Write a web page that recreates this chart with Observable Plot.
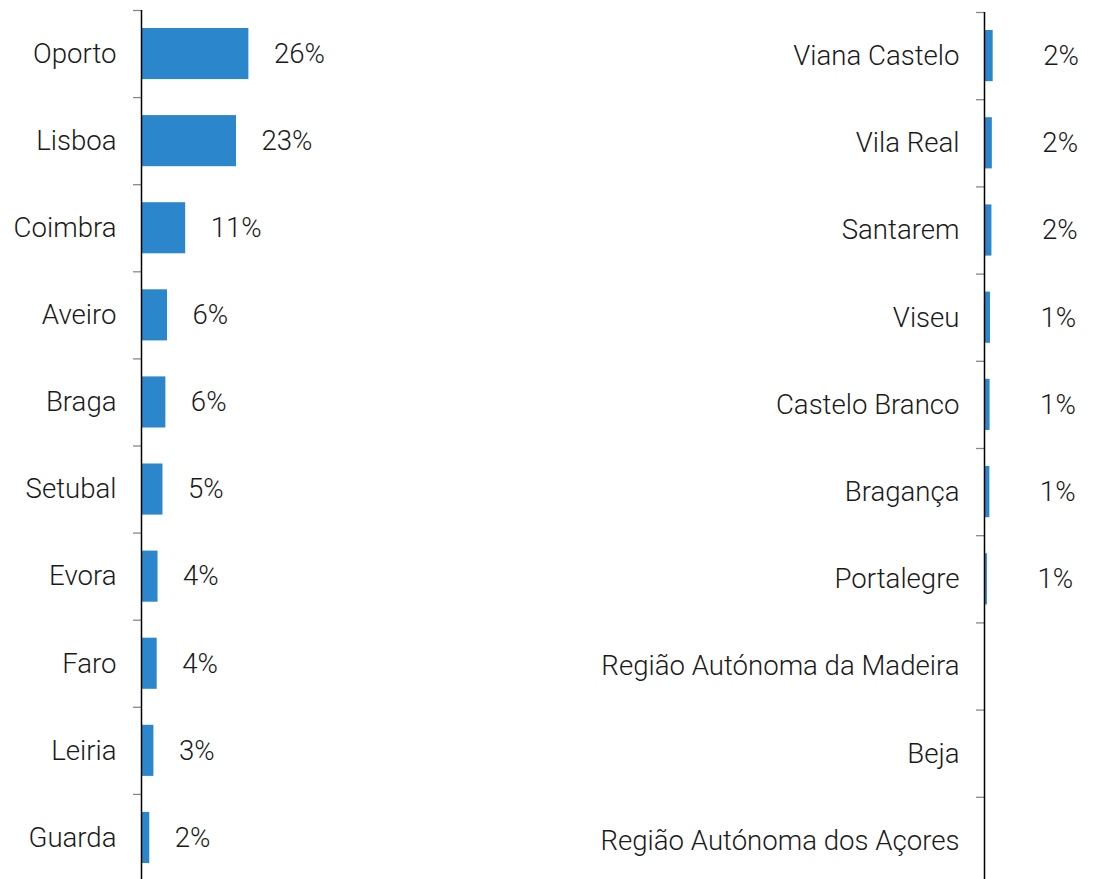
<!DOCTYPE html>
<html><head><meta charset="utf-8">
<script src="https://cdn.jsdelivr.net/npm/d3@7"></script>
<script src="https://cdn.jsdelivr.net/npm/@observablehq/plot@0.6"></script>
<style>
body{margin:0;background:#fff;}
#wrap{position:relative;width:1100px;height:879px;overflow:hidden;}
#left,#right{position:absolute;top:0;}
#left{left:0px}
#right{left:560px}
</style></head><body><div id="wrap"><div id="left"></div><div id="right"></div></div>
<script>
const leftNames = ["Oporto","Lisboa","Coimbra","Aveiro","Braga","Setubal","Evora","Faro","Leiria","Guarda"];
const leftValues = [26.0, 23.0, 10.7, 6.3, 5.9, 5.2, 4.0, 3.8, 3.0, 2.0];
const rightNames = ["Viana Castelo","Vila Real","Santarem","Viseu","Castelo Branco","Bragança","Portalegre","Região Autónoma da Madeira","Beja","Região Autónoma dos Açores"];
const rightValues = [2.1, 1.9, 1.8, 1.45, 1.35, 1.3, 0.7, 0, 0, 0];

const BAR = "#2b86cb";
const FONT = "Roboto, 'Liberation Sans', sans-serif";
const FS = 27.6;

function panel(names, values, o) {
  const data = names.map((name, i) => ({name, value: values[i], i}));
  const n = names.length;
  return Plot.plot({
    width: o.width,
    height: o.bottom,
    marginLeft: o.marginLeft,
    marginRight: 0,
    marginTop: o.top,
    marginBottom: 0,
    style: {fontFamily: FONT, fontSize: FS + "px", fontWeight: 300, color: "#1a1a1a", background: "transparent", overflow: "visible"},
    x: {domain: [0, o.xmax], axis: null},
    y: {domain: [0, n], range: [o.top, o.bottom], axis: null},
    marks: [
      Plot.rect(data, {x1: 0, x2: "value", y1: "i", y2: d => d.i + 1, insetTop: 18, insetBottom: 18, fill: BAR}),
      Plot.axisY({ticks: d3.range(0, n + 1), tickSize: 8, tickFormat: () => "", label: null, stroke: "#888", strokeWidth: 1.3}),
      Plot.ruleX([0], {stroke: "#000", strokeWidth: 1.5}),
      Plot.text(data, {x: 0, y: d => d.i + 0.5, text: "name", textAnchor: "end", dx: -25, fontSize: FS, fontWeight: 300, fill: "#1a1a1a"}),
      Plot.text(data.filter(d => d.value > 0), {x: "value", y: d => d.i + 0.5, text: d => Math.round(d.value) + "%", textAnchor: "start", dx: o.dx, fontSize: FS, fontWeight: 300, fill: "#1a1a1a"})
    ]
  });
}

document.getElementById("left").append(panel(leftNames, leftValues, {width: 554, marginLeft: 141, xmax: 100, top: 10, bottom: 881, dx: 25}));
document.getElementById("right").append(panel(rightNames, rightValues, {width: 540, marginLeft: 424, xmax: 28.1, top: 12, bottom: 884, dx: 50}));
</script>
</body></html>
